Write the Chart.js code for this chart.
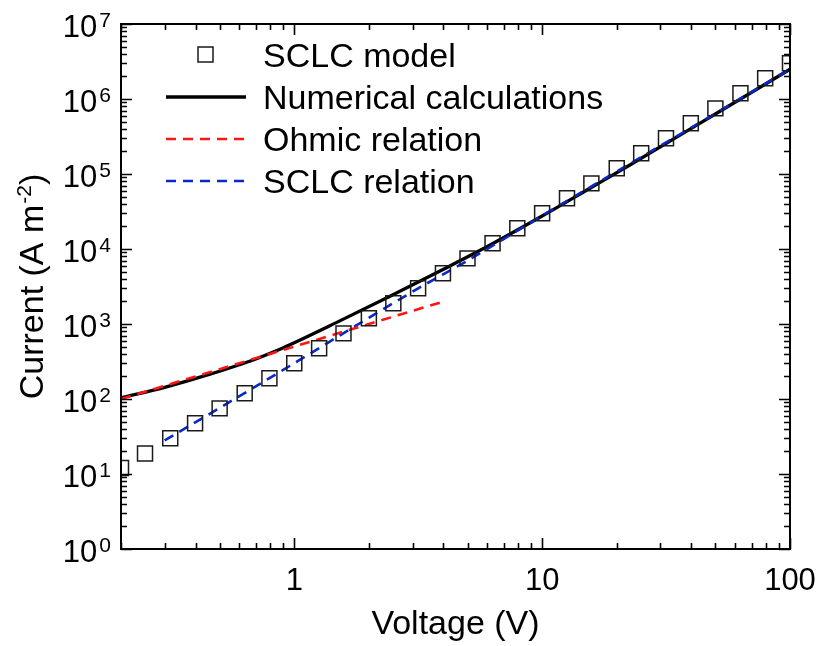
<!DOCTYPE html>
<html lang="en">
<head>
<meta charset="UTF-8">
<meta name="viewport" content="width=device-width, initial-scale=1">
<script src="https://cdn.jsdelivr.net/npm/chart.js"></script>
<style>
  html, body { margin: 0; padding: 0; background: #fff; }
  #wrap { width: 819px; height: 646px; }
</style>
</head>
<body>
<div id="wrap"><canvas id="ivChart"></canvas></div>
<script>
// SCLC model (open squares)
const modelV = [0.2, 0.25, 0.316, 0.398, 0.5, 0.631, 0.794, 1, 1.26, 1.58, 2, 2.51, 3.16, 3.98, 5, 6.31, 7.94, 10, 12.6, 15.8, 20, 25.1, 31.6, 39.8, 50, 63.1, 79.4, 100];
const modelJ = [12, 18.8, 30, 47.5, 75, 119, 189, 300, 475, 750, 1190, 1890, 3000, 4750, 7500, 11900, 18900, 30000, 47500, 75000, 119000, 189000, 300000, 475000, 750000, 1190000, 1890000, 3000000];

// numerical calculations (black line)
const numV = [0.2, 0.3, 0.45, 0.67, 0.87, 1, 1.47, 2.4, 4, 6.14, 10, 15.6, 22.6, 50, 100];
const numJ = [104, 143, 211, 324, 457, 562, 1035, 2290, 5370, 11200, 27500, 64600, 132000, 631000, 2490000];

// ohmic relation (red dashed)
const ohmV = [0.2, 0.5, 1, 2, 4];
const ohmJ = [100, 250, 500, 1000, 1990];

// SCLC relation (blue dashed)
const sclcV = [0.3, 0.5, 1, 2, 3.2, 5, 10, 20, 50, 100];
const sclcJ = [28, 76, 300, 1210, 3050, 7000, 27800, 108000, 640000, 2490000];

const xTickLabels = ['1', '10', '100'];
const yTickExp = ['0', '1', '2', '3', '4', '5', '6', '7'];

const pts = (xs, ys) => xs.map((x, i) => ({x: x, y: ys[i]}));
const FONT = '"Liberation Sans", Arial, sans-serif';

function logTicks(min, max) {
    const out = [];
    for (let e = Math.floor(Math.log10(min)); e <= Math.ceil(Math.log10(max)); e++) {
        for (let m = 1; m < 10; m++) {
            const v = m * Math.pow(10, e);
            if (v >= min * 0.999 && v <= max * 1.001) out.push({v: v, major: m === 1});
        }
    }
    return out;
}

// frame, inward ticks, labels, titles and legend
const framePlugin = {
    id: 'frame',
    afterDraw(chart) {
        const ctx = chart.ctx;
        const a = chart.chartArea;
        const xs = chart.scales.x, ys = chart.scales.y;
        ctx.save();
        ctx.strokeStyle = '#000';
        ctx.lineWidth = 2;
        ctx.strokeRect(a.left, a.top, a.right - a.left, a.bottom - a.top);

        ctx.lineWidth = 1.6;
        ctx.beginPath();
        logTicks(xs.min, xs.max).forEach(t => {
            const px = Math.round(xs.getPixelForValue(t.v)) + 0.5;
            const len = t.major ? 11 : 6;
            ctx.moveTo(px, a.bottom); ctx.lineTo(px, a.bottom - len);
            ctx.moveTo(px, a.top); ctx.lineTo(px, a.top + len);
        });
        logTicks(ys.min, ys.max).forEach(t => {
            const py = Math.round(ys.getPixelForValue(t.v)) + 0.5;
            const len = t.major ? 11 : 6;
            ctx.moveTo(a.left, py); ctx.lineTo(a.left + len, py);
            ctx.moveTo(a.right, py); ctx.lineTo(a.right - len, py);
        });
        ctx.stroke();

        // x tick labels
        ctx.fillStyle = '#000';
        ctx.font = '31px ' + FONT;
        ctx.textAlign = 'center';
        ctx.textBaseline = 'alphabetic';
        xTickLabels.forEach(l => {
            ctx.fillText(l, xs.getPixelForValue(parseFloat(l)), a.bottom + 41);
        });

        // y tick labels 10^n
        yTickExp.forEach(e => {
            const py = ys.getPixelForValue(Math.pow(10, parseInt(e)));
            ctx.font = '21px ' + FONT;
            ctx.textAlign = 'right';
            ctx.fillText(e, 111, py + 3);
            const sw = ctx.measureText(e).width;
            ctx.font = '31px ' + FONT;
            ctx.fillText('10', 111 - sw - 2, py + 13);
        });

        // axis titles
        ctx.font = '34px ' + FONT;
        ctx.textAlign = 'center';
        ctx.fillText('Voltage (V)', (a.left + a.right) / 2, 634);

        ctx.save();
        ctx.translate(43, (a.top + a.bottom) / 2);
        ctx.rotate(-Math.PI / 2);
        ctx.textAlign = 'left';
        const p1 = 'Current (A m', p2 = '-2', p3 = ')';
        ctx.font = '34px ' + FONT;
        const w1 = ctx.measureText(p1).width, w3 = ctx.measureText(p3).width;
        ctx.font = '21px ' + FONT;
        const w2 = ctx.measureText(p2).width;
        let x0 = -(w1 + w2 + w3 + 1) / 2;
        ctx.font = '34px ' + FONT;
        ctx.fillText(p1, x0, 0);
        ctx.font = '21px ' + FONT;
        ctx.fillText(p2, x0 + w1 + 1, -12);
        ctx.font = '34px ' + FONT;
        ctx.fillText(p3, x0 + w1 + w2 + 1, 0);
        ctx.restore();

        // legend
        const rows = [54.5, 97, 139, 181];
        ctx.font = '34px ' + FONT;
        ctx.textAlign = 'left';
        chart.data.datasets.forEach((ds, i) => {
            const y = rows[i];
            ctx.lineWidth = ds.borderWidth;
            ctx.strokeStyle = ds.borderColor;
            if (ds.showLine === false) {
                ctx.setLineDash([]);
                ctx.strokeRect(198, y - 7.5, 15, 15);
            } else {
                ctx.setLineDash(ds.borderDash || []);
                ctx.beginPath();
                ctx.moveTo(166, y); ctx.lineTo(246, y);
                ctx.stroke();
            }
            ctx.setLineDash([]);
            ctx.fillStyle = '#000';
            ctx.fillText(ds.label, 263, y + 12);
        });
        ctx.restore();
    }
};

new Chart(document.getElementById('ivChart'), {
    type: 'line',
    data: {
        datasets: [
            {
                label: 'SCLC model',
                data: pts(modelV, modelJ),
                showLine: false,
                pointStyle: 'rect',
                pointRadius: 10.6,
                pointBorderWidth: 1.5,
                borderWidth: 1.5,
                borderColor: '#1a1a1a',
                pointBorderColor: '#1a1a1a',
                pointBackgroundColor: 'rgba(0,0,0,0)',
                backgroundColor: 'rgba(0,0,0,0)',
                order: 0
            },
            {
                label: 'Numerical calculations',
                data: pts(numV, numJ),
                borderColor: '#000',
                borderWidth: 3.3,
                pointRadius: 0,
                cubicInterpolationMode: 'monotone',
                order: 3
            },
            {
                label: 'Ohmic relation',
                data: pts(ohmV, ohmJ),
                borderColor: 'rgb(255,20,20)',
                borderWidth: 2.6,
                borderDash: [10, 7],
                pointRadius: 0,
                order: 1
            },
            {
                label: 'SCLC relation',
                data: pts(sclcV, sclcJ),
                borderColor: 'rgb(10,40,200)',
                borderWidth: 2.6,
                borderDash: [10, 7],
                pointRadius: 0,
                cubicInterpolationMode: 'monotone',
                order: 1
            }
        ]
    },
    options: {
        responsive: true,
        maintainAspectRatio: false,
        animation: false,
        layout: { padding: { left: 121, right: 29, top: 24, bottom: 97 } },
        plugins: { legend: { display: false }, tooltip: { enabled: false } },
        scales: {
            x: { type: 'logarithmic', min: 0.2, max: 100, display: false },
            y: { type: 'logarithmic', min: 1, max: 1e7, display: false }
        }
    },
    plugins: [framePlugin]
});
</script>
</body>
</html>
